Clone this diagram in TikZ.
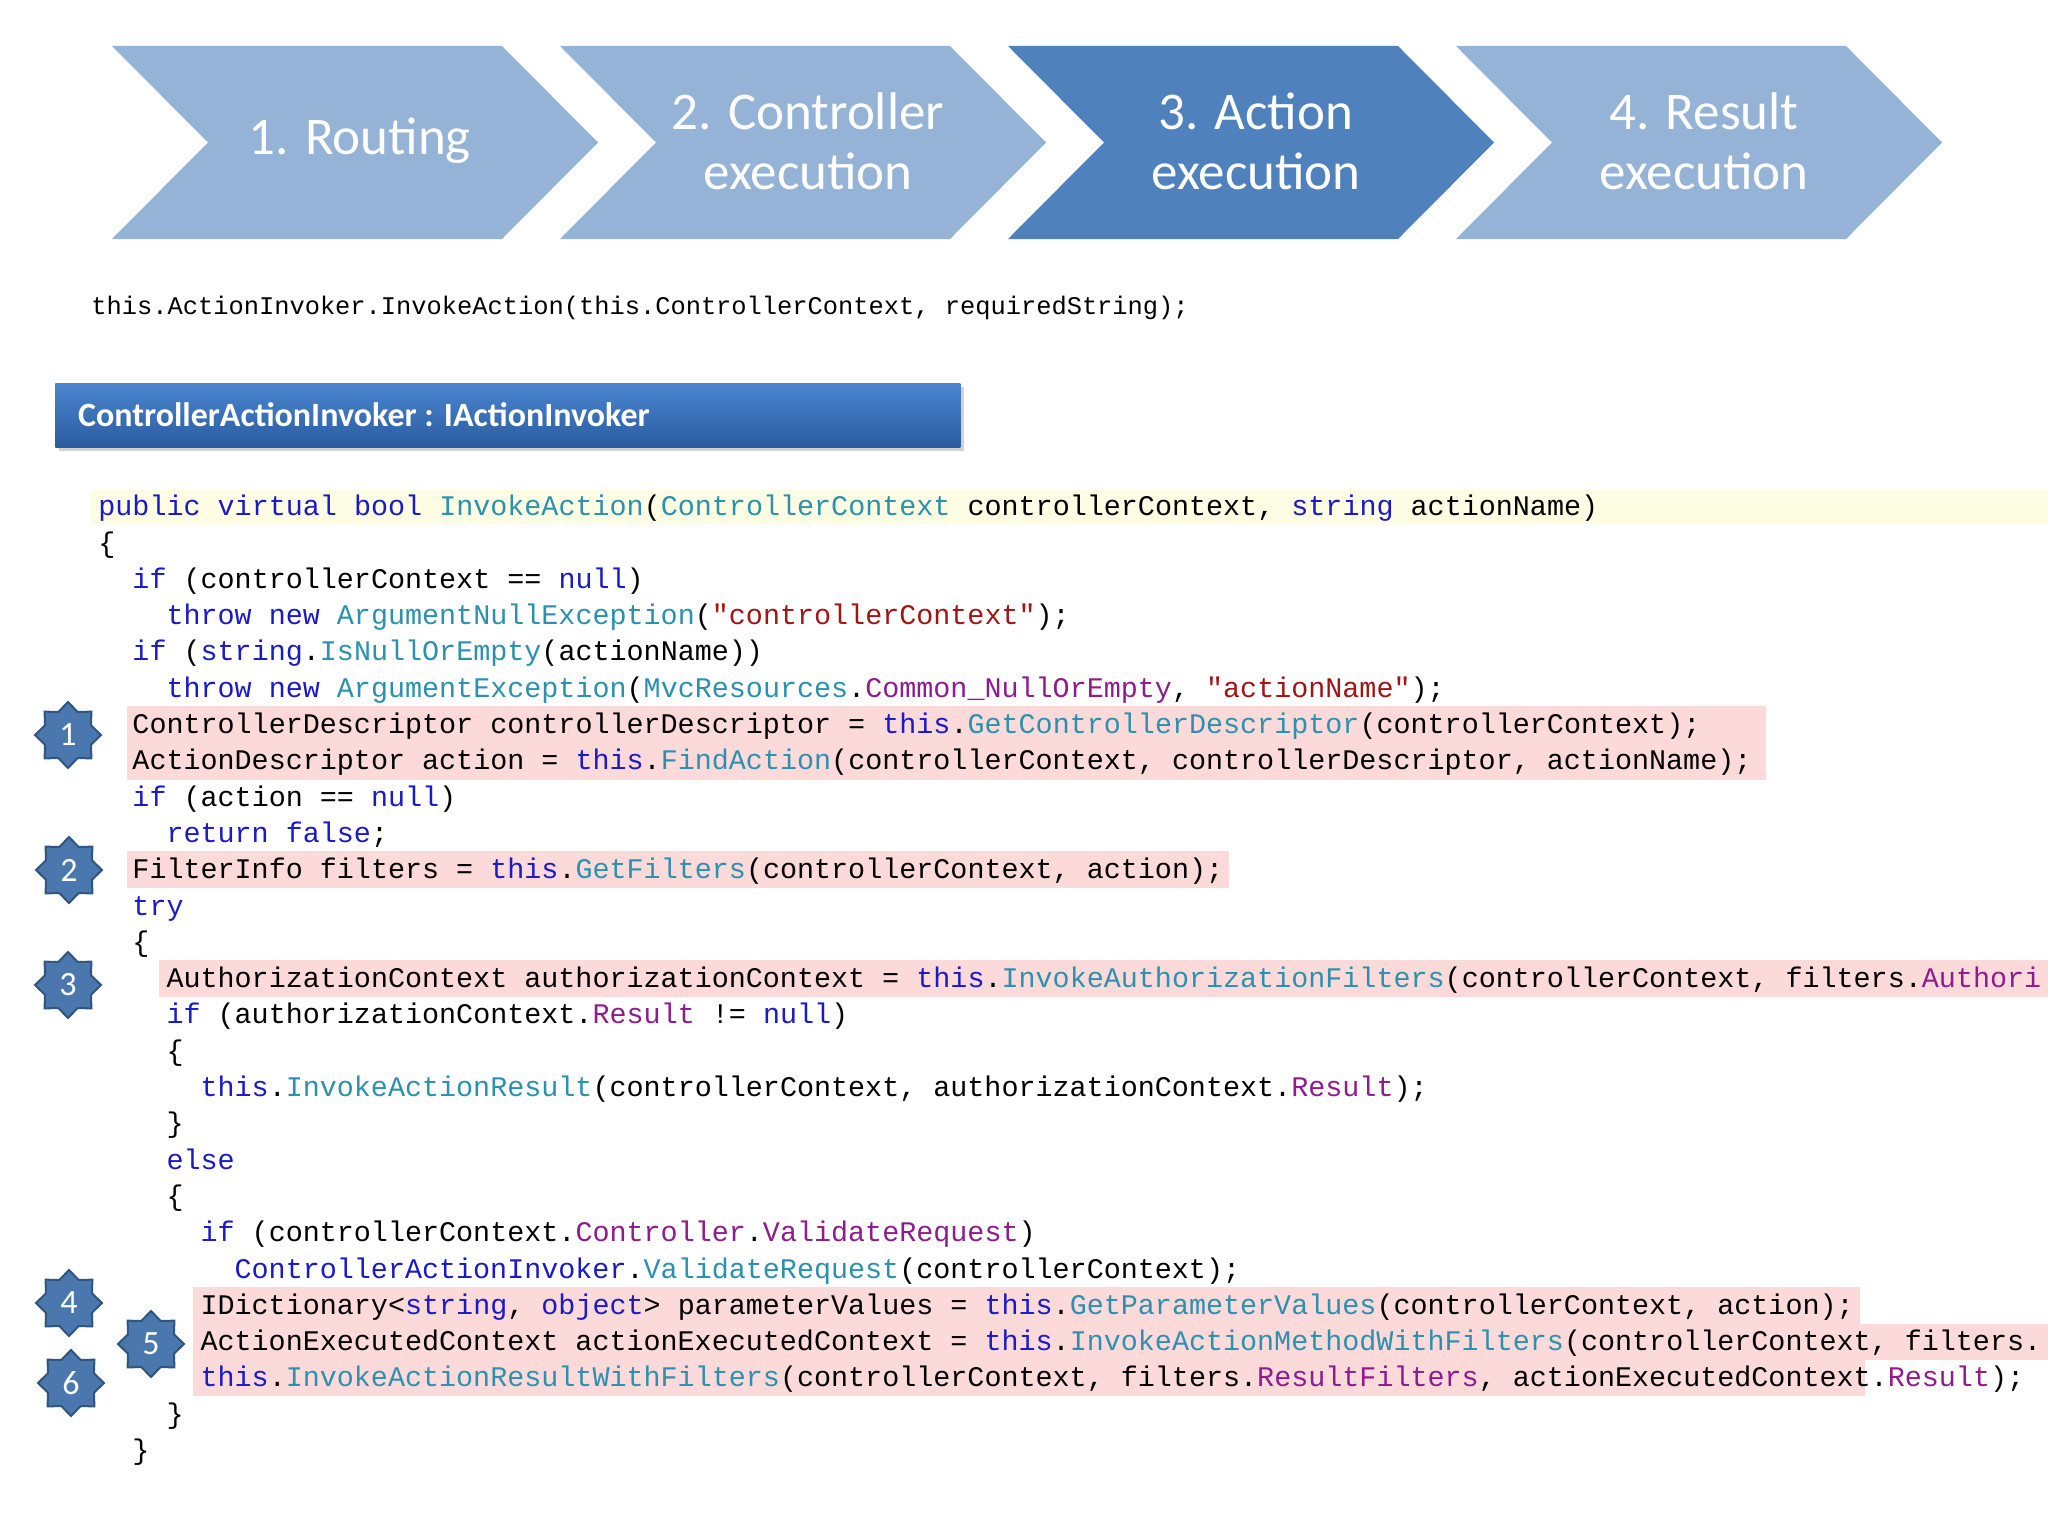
\documentclass[tikz,border=0pt]{standalone}
\usepackage{fontspec}
\setmainfont{Carlito}
\newfontfamily\codefont{Liberation Mono}
\usetikzlibrary{shapes.geometric,shadows}
\definecolor{kwc}{HTML}{1A1AC8}
\definecolor{tyc}{HTML}{2B91AF}
\definecolor{stc}{HTML}{A31515}
\definecolor{prc}{HTML}{8E1C8E}
\definecolor{pinkc}{HTML}{FDDADA}
\definecolor{yelc}{HTML}{FDFDE4}
\definecolor{lightb}{HTML}{95B3D7}
\definecolor{darkb}{HTML}{4F81BD}
\definecolor{bartop}{HTML}{4A86D0}
\definecolor{barbot}{HTML}{2B5B9F}
\definecolor{starb}{HTML}{4A77AE}
\definecolor{stard}{HTML}{30557F}
\newcommand\kw[1]{\textcolor{kwc}{#1}}
\newcommand\ty[1]{\textcolor{tyc}{#1}}
\newcommand\st[1]{\textcolor{stc}{#1}}
\newcommand\pr[1]{\textcolor{prc}{#1}}
\newcommand\cl[4]{\node[codeline] (#3) at ({98+17.03*#2},{515.7+36.3*#1}) {#4};}
\begin{document}
\begin{tikzpicture}[x=0.5pt,y=-0.5pt,
  codeline/.style={anchor=base west,inner sep=0pt,font=\codefont\fontsize{14.2}{16}\selectfont},
  chev/.style={text=white,align=center,font=\fontsize{26.5}{30}\selectfont},
  starnode/.style={shape=star,star points=8,star point ratio=1.32,minimum size=33pt,inner sep=0pt,fill=starb,draw=stard,line width=1pt,text=white,font=\fontsize{17}{20}\selectfont}]
\clip (0,0) rectangle (2048,1536);
\fill[white] (0,0) rectangle (2048,1536);
% chevrons
\foreach \k/\c in {0/lightb,1/lightb,2/darkb,3/lightb}{
  \fill[\c] ({112+448*\k},46) -- ({502+448*\k},46) -- ({598+448*\k},142.5) -- ({502+448*\k},239) -- ({112+448*\k},239) -- ({208+448*\k},142.5) -- cycle;
}
\node[chev] (c1) at (360,141) {1. Routing};
\node[chev] (c2) at (808,141) {2. Controller\\execution};
\node[chev] (c3) at (1256,141) {3. Action\\execution};
\node[chev] (c4) at (1704,141) {4. Result\\execution};
% call line
\node[anchor=base west,inner sep=0pt,font=\codefont\fontsize{12.7}{15}\selectfont] (call) at (91,314) {this.ActionInvoker.InvokeAction(this.ControllerContext, requiredString);};
% header bar
\node[anchor=north west,minimum width=452.5pt,minimum height=32pt,inner sep=0pt,
  top color=bartop,bottom color=barbot,drop shadow={opacity=0.35,shadow xshift=2pt,shadow yshift=-2pt}] (bar) at (55,383) {};
\node[anchor=west,text=white,font=\bfseries\fontsize{17}{20}\selectfont] (bartext) at (71,415) {ControllerActionInvoker : IActionInvoker};
% backgrounds
\fill[yelc] (91,490) rectangle (2048,524);
\fill[pinkc] (127,706) rectangle (1766,780);
\fill[pinkc] (127,851) rectangle (1229,888);
\fill[pinkc] (159,960) rectangle (2048,997);
\fill[pinkc] (193,1287) rectangle (1860,1324);
\fill[pinkc] (193,1324) rectangle (2048,1360);
\fill[pinkc] (193,1360) rectangle (1865,1396);
% code
\cl{0}{0}{l0}{\kw{public virtual bool} \ty{InvokeAction}(\ty{ControllerContext} controllerContext, \kw{string} actionName)}
\cl{1}{0}{l1}{\{}
\cl{2}{2}{l2}{\kw{if} (controllerContext == \kw{null})}
\cl{3}{4}{l3}{\kw{throw new} \ty{ArgumentNullException}(\st{"controllerContext"});}
\cl{4}{2}{l4}{\kw{if} (\kw{string}.\ty{IsNullOrEmpty}(actionName))}
\cl{5}{4}{l5}{\kw{throw new} \ty{ArgumentException}(\ty{MvcResources}.\pr{Common\_NullOrEmpty}, \st{"actionName"});}
\cl{6}{2}{l6}{ControllerDescriptor controllerDescriptor = \kw{this}.\ty{GetControllerDescriptor}(controllerContext);}
\cl{7}{2}{l7}{ActionDescriptor action = \kw{this}.\ty{FindAction}(controllerContext, controllerDescriptor, actionName);}
\cl{8}{2}{l8}{\kw{if} (action == \kw{null})}
\cl{9}{4}{l9}{\kw{return false};}
\cl{10}{2}{l10}{FilterInfo filters = \kw{this}.\ty{GetFilters}(controllerContext, action);}
\cl{11}{2}{l11}{\kw{try}}
\cl{12}{2}{l12}{\{}
\cl{13}{4}{l13}{AuthorizationContext authorizationContext = \kw{this}.\ty{InvokeAuthorizationFilters}(controllerContext, filters.\pr{Authori}}
\cl{14}{4}{l14}{\kw{if} (authorizationContext.\pr{Result} != \kw{null})}
\cl{15}{4}{l15}{\{}
\cl{16}{6}{l16}{\kw{this}.\ty{InvokeActionResult}(controllerContext, authorizationContext.\pr{Result});}
\cl{17}{4}{l17}{\}}
\cl{18}{4}{l18}{\kw{else}}
\cl{19}{4}{l19}{\{}
\cl{20}{6}{l20}{\kw{if} (controllerContext.\pr{Controller}.\pr{ValidateRequest})}
\cl{21}{8}{l21}{\kw{ControllerActionInvoker}.\ty{ValidateRequest}(controllerContext);}
\cl{22}{6}{l22}{IDictionary<\kw{string}, \kw{object}> parameterValues = \kw{this}.\ty{GetParameterValues}(controllerContext, action);}
\cl{23}{6}{l23}{ActionExecutedContext actionExecutedContext = \kw{this}.\ty{InvokeActionMethodWithFilters}(controllerContext, filters.}
\cl{24}{6}{l24}{\kw{this}.\ty{InvokeActionResultWithFilters}(controllerContext, filters.\pr{ResultFilters}, actionExecutedContext.\pr{Result});}
\cl{25}{4}{l25}{\}}
\cl{26}{2}{l26}{\}}
% stars
\node[starnode] (s1) at (68,735) {1};
\node[starnode] (s2) at (69,870) {2};
\node[starnode] (s3) at (68,985) {3};
\node[starnode] (s4) at (69,1303) {4};
\node[starnode] (s5) at (151,1344) {5};
\node[starnode] (s6) at (71,1383) {6};
\end{tikzpicture}
\end{document}
